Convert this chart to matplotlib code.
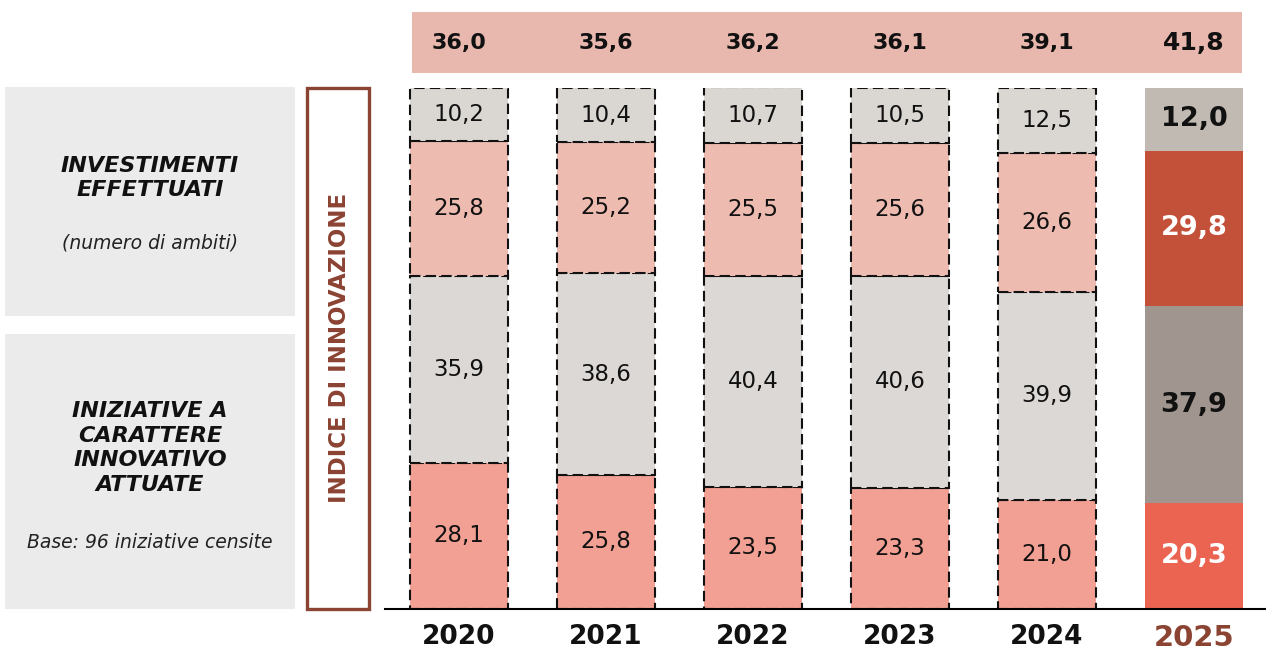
import matplotlib
matplotlib.use("Agg")
import matplotlib.pyplot as plt
from matplotlib.patches import Rectangle

plt.rcParams['font.family'] = ['DejaVu Sans']

years = ["2020", "2021", "2022", "2023", "2024", "2025"]
iniziative = [28.1, 25.8, 23.5, 23.3, 21.0, 20.3]
iniziative_altro = [35.9, 38.6, 40.4, 40.6, 39.9, 37.9]
investimenti = [25.8, 25.2, 25.5, 25.6, 26.6, 29.8]
investimenti_altro = [10.2, 10.4, 10.7, 10.5, 12.5, 12.0]
indice = [36.0, 35.6, 36.2, 36.1, 39.1, 41.8]

series = [iniziative, iniziative_altro, investimenti, investimenti_altro]
colors_past = ["#F2A094", "#DCD8D5", "#EEBBB1", "#DAD6D2"]
colors_last = ["#EB6452", "#A1968F", "#C35038", "#C1BAB2"]
text_last = ["white", "#111111", "white", "#111111"]

W, H = 1266, 652
fig = plt.figure(figsize=(W / 100, H / 100), dpi=100)

# background overlay in pixel coordinates
bg = fig.add_axes([0, 0, 1, 1])
bg.set_xlim(0, W)
bg.set_ylim(H, 0)
bg.axis("off")
bg.add_patch(Rectangle((5, 87), 290, 229, facecolor="#EBEBEB", edgecolor="none"))
bg.add_patch(Rectangle((5, 334), 290, 275, facecolor="#EBEBEB", edgecolor="none"))
bg.add_patch(Rectangle((306.5, 87.5), 62, 521, facecolor="white", edgecolor="#8B4332", linewidth=2.4))
bg.text(150, 178, "INVESTIMENTI\nEFFETTUATI", ha="center", va="center", fontsize=16,
        fontweight="bold", style="italic", linespacing=1.3, color="#111111")
bg.text(150, 243, "(numero di ambiti)", ha="center", va="center", fontsize=13.5,
        style="italic", color="#222222")
bg.text(150, 448, "INIZIATIVE A\nCARATTERE\nINNOVATIVO\nATTUATE", ha="center", va="center",
        fontsize=16, fontweight="bold", style="italic", linespacing=1.28, color="#111111")
bg.text(150, 542, "Base: 96 iniziative censite", ha="center", va="center", fontsize=13.5,
        style="italic", color="#222222")
bg.text(339, 348, "INDICE DI INNOVAZIONE", ha="center", va="center", rotation=90,
        fontsize=16.5, fontweight="bold", color="#8B4332")

# main bar axes
x0, x1, yb, yt = 385, 1266, 609, 88
ax = fig.add_axes([x0 / W, (H - yb) / H, (x1 - x0) / W, (yb - yt) / H])
ax.set_xlim(-0.503, 5.49)
ax.set_ylim(0, 100)
ax.patch.set_alpha(0)
for s in ["top", "right", "left"]:
    ax.spines[s].set_visible(False)
ax.spines["bottom"].set_linewidth(1.5)
ax.set_yticks([])
ax.set_xticks(range(len(years)))
ax.set_xticklabels(years)
ax.tick_params(axis="x", length=0, pad=11)
for i, lab in enumerate(ax.get_xticklabels()):
    if i == len(years) - 1:
        lab.set_fontsize(21)
        lab.set_color("#8B4332")
    else:
        lab.set_fontsize(19)
        lab.set_color("#111111")
    lab.set_fontweight("bold")

width = 0.667
bottoms = [0.0] * len(years)
for k, vals in enumerate(series):
    for i, v in enumerate(vals):
        last = (i == len(years) - 1)
        if last:
            ax.bar(i, v, width, bottom=bottoms[i], color=colors_last[k], edgecolor="none")
            ax.text(i, bottoms[i] + v / 2, f"{v:.1f}".replace(".", ","), ha="center",
                    va="center", fontsize=19.5, fontweight="bold", color=text_last[k])
        else:
            ax.bar(i, v, width, bottom=bottoms[i], color=colors_past[k], edgecolor="#111111",
                   linewidth=1.5, linestyle=(0, (5, 2.5)))
            ax.text(i, bottoms[i] + v / 2, f"{v:.1f}".replace(".", ","), ha="center",
                    va="center", fontsize=16.5, color="#111111")
        bottoms[i] += v

# top band with index values
band = fig.add_axes([x0 / W, (H - 73) / H, (x1 - x0) / W, 61 / H])
band.set_xlim(ax.get_xlim())
band.set_ylim(0, 1)
band.axis("off")
band.add_patch(Rectangle((-0.32, 0), 5.65, 1, facecolor="#E8B7AD", edgecolor="none"))
for i, v in enumerate(indice):
    band.text(i, 0.5, f"{v:.1f}".replace(".", ","), ha="center", va="center",
              fontsize=18 if i == len(years) - 1 else 16, fontweight="bold", color="#111111")

fig.savefig("out.png", dpi=100)
